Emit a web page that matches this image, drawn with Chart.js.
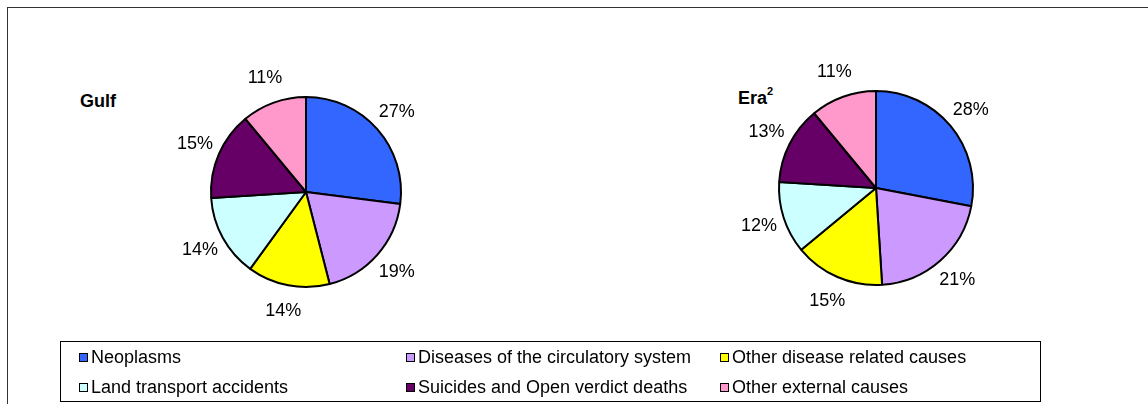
<!DOCTYPE html>
<html>
<head>
<meta charset="utf-8">
<script src="https://cdn.jsdelivr.net/npm/chart.js@4/dist/chart.umd.min.js"></script>
<style>
  body { margin: 0; background: #fff; font-family: "Liberation Sans", Arial, sans-serif; }
  #wrap { position: relative; width: 1148px; height: 404px; overflow: hidden; }
  #frame { position: absolute; left: 7px; top: 7px; width: 1200px; height: 450px; border-top: 1px solid #333; border-left: 1px solid #333; }
  .pie { position: absolute; width: 320px; height: 320px; }
  .title { position: absolute; font-weight: bold; font-size: 18px; color: #000; line-height: 20px; }
  .title sup { font-size: 11px; line-height: 0; position: relative; top: -2px; }
  #legend { position: absolute; left: 60px; top: 341px; width: 981px; height: 61px; border: 1px solid #000; box-sizing: border-box; font-size: 18px; }
  .item { position: absolute; display: flex; align-items: center; white-space: nowrap; height: 20px; }
  .sw { width: 7px; height: 7px; border: 1px solid #000; margin-right: 3px; }
</style>
</head>
<body>
<div id="wrap">
  <div id="frame"></div>
  <div class="title" style="left:80px; top:91px;">Gulf</div>
  <div class="title" style="left:738px; top:88px;">Era<sup>2</sup></div>
  <canvas id="gulfChart" class="pie" style="left:146px; top:32px;"></canvas>
  <canvas id="eraChart" class="pie" style="left:716px; top:28px;"></canvas>
  <div id="legend"></div>
</div>
<script>
// Causes of death, percentage share per cohort.
const causes = [
  "Neoplasms",
  "Diseases of the circulatory system",
  "Other disease related causes",
  "Land transport accidents",
  "Suicides and Open verdict deaths",
  "Other external causes"
];
const gulfValues = [27, 19, 14, 14, 15, 11];
const eraValues = [28, 21, 15, 12, 13, 11];
const colors = ["#3366FF", "#CC99FF", "#FFFF00", "#CCFFFF", "#660066", "#FF99CC"];

const $ = (id) => document.getElementById(id);

// percent labels just outside every slice
const outsideLabels = {
  id: "outsideLabels",
  afterDatasetsDraw(chart) {
    const ctx = chart.ctx;
    const meta = chart.getDatasetMeta(0);
    const values = chart.data.datasets[0].data;
    ctx.save();
    ctx.font = "18px 'Liberation Sans', Arial, sans-serif";
    ctx.fillStyle = "#000";
    ctx.textAlign = "center";
    ctx.textBaseline = "middle";
    meta.data.forEach((arc, i) => {
      const { x, y, startAngle, endAngle, outerRadius } = arc.getProps(["x", "y", "startAngle", "endAngle", "outerRadius"], true);
      const mid = (startAngle + endAngle) / 2;
      const d = outerRadius + 26;
      ctx.fillText(values[i] + "%", x + Math.cos(mid) * d, y + Math.sin(mid) * d);
    });
    ctx.restore();
  }
};

function makePie(canvasId, values, radius) {
  return new Chart($(canvasId), {
    type: "pie",
    data: {
      labels: causes,
      datasets: [{ data: values, backgroundColor: colors, borderColor: "#000", borderWidth: 2, radius: radius }]
    },
    options: {
      responsive: false,
      animation: false,
      plugins: { legend: { display: false }, tooltip: { enabled: false } }
    },
    plugins: [outsideLabels]
  });
}

makePie("gulfChart", gulfValues, 95);
makePie("eraChart", eraValues, 97);

// legend: three columns, two rows
const colX = [18, 345, 659];
const rowY = [5, 35];
let html = "";
causes.forEach((c, i) => {
  const col = i % 3, row = Math.floor(i / 3);
  html += `<div class="item" style="left:${colX[col]}px; top:${rowY[row]}px;"><span class="sw" style="background:${colors[i]}"></span>${c}</div>`;
});
$("legend").innerHTML = html;
</script>
</body>
</html>
